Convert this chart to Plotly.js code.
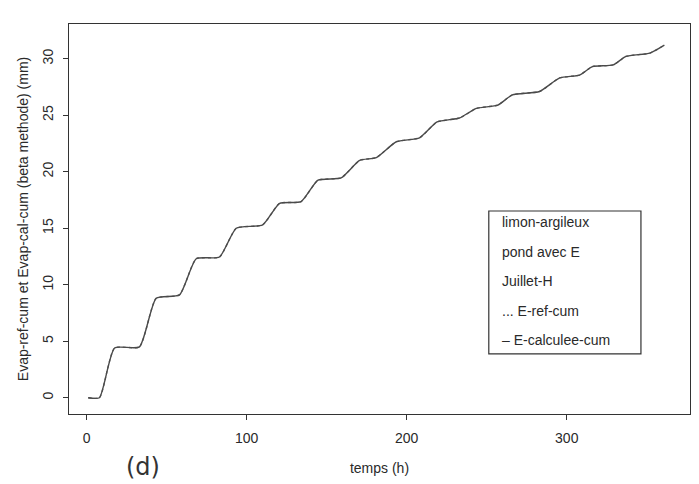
<!DOCTYPE html>
<html>
<head>
<meta charset="utf-8">
<script src="https://cdn.plot.ly/plotly-3.0.1.min.js"></script>
<style>html,body{margin:0;padding:0;background:#fff;}#chart{width:699px;height:484px;}</style>
</head>
<body>
<div id="chart"></div>
<script>
// Data (time in hours, cumulative evaporation in mm)
var timeHours = [1, 8, 17.5, 33, 43.5, 58, 68.5, 83, 93.5, 110, 120.6, 134, 144.6, 159, 170.6, 181, 193.5, 208, 219, 233, 243.5, 257, 266, 283, 295.6, 308, 316, 329, 337, 352, 361];
var eRefCum = [0.0, 0.0, 4.4, 4.5, 8.8, 9.1, 12.3, 12.45, 15.0, 15.3, 17.2, 17.35, 19.25, 19.45, 21.0, 21.25, 22.65, 23.0, 24.4, 24.75, 25.6, 25.9, 26.8, 27.1, 28.3, 28.55, 29.3, 29.45, 30.2, 30.5, 31.2];
var eCalculeeCum = [0.0, 0.0, 4.4, 4.5, 8.8, 9.1, 12.3, 12.45, 15.0, 15.3, 17.2, 17.35, 19.25, 19.45, 21.0, 21.25, 22.65, 23.0, 24.4, 24.75, 25.6, 25.9, 26.8, 27.1, 28.3, 28.55, 29.3, 29.45, 30.2, 30.5, 31.2];
var xTicks = [0, 100, 200, 300];
var yTicks = [0, 5, 10, 15, 20, 25, 30];
var legendLines = ["limon-argileux", "pond avec E", "Juillet-H", "... E-ref-cum", "\u2013 E-calculee-cum"];

var FONT = "Liberation Sans, Arial, Helvetica, sans-serif";
var INK = "#2a2a2a";

var traces = [
  {x: timeHours, y: eRefCum, mode: "lines", name: "E-ref-cum",
   line: {color: "#6a6a6a", width: 1.4, dash: "dot", shape: "spline", smoothing: 0.55}},
  {x: timeHours, y: eCalculeeCum, mode: "lines", name: "E-calculee-cum",
   line: {color: "#4a4a4a", width: 1.4, shape: "spline", smoothing: 0.55}}
];

var legY = [0.492, 0.415, 0.341, 0.264, 0.190];
var annotations = legendLines.map(function (t, i) {
  return {xref: "paper", yref: "paper", x: 0.694, y: legY[i], xanchor: "left", yanchor: "middle",
          text: t, showarrow: false, font: {family: FONT, size: 14, color: INK}};
});
annotations.push({xref: "paper", yref: "paper", x: 0.119, y: -0.135, xanchor: "center", yanchor: "middle",
  text: "(d)", showarrow: false, font: {family: "DejaVu Sans, sans-serif", size: 24, color: "#333"}});

var layout = {
  width: 699, height: 484,
  margin: {l: 69, r: 9, t: 24, b: 70},
  paper_bgcolor: "#fff", plot_bgcolor: "#fff",
  showlegend: false,
  font: {family: FONT, size: 14, color: INK},
  xaxis: {
    range: [-11, 377], tickvals: xTicks, ticktext: xTicks.map(String),
    showgrid: false, zeroline: false, showline: true, mirror: true, linecolor: "#333", linewidth: 1.2,
    ticks: "outside", ticklen: 5, tickcolor: "#333", ticklabelstandoff: 6,
    tickfont: {family: FONT, size: 14, color: INK},
    title: {text: "temps (h)", font: {family: FONT, size: 14, color: INK}, standoff: 18},
    automargin: false
  },
  yaxis: {
    range: [-1.44, 33.07], tickvals: yTicks, ticktext: yTicks.map(String), tickangle: -90,
    showgrid: false, zeroline: false, showline: true, mirror: true, linecolor: "#333", linewidth: 1.2,
    ticks: "outside", ticklen: 5, tickcolor: "#333", ticklabelstandoff: 4,
    tickfont: {family: FONT, size: 14, color: INK},
    title: {text: "Evap-ref-cum et Evap-cal-cum (beta methode) (mm)", font: {family: FONT, size: 14, color: INK}, standoff: 8},
    automargin: false
  },
  shapes: [{type: "rect", xref: "paper", yref: "paper", x0: 0.676, x1: 0.921, y0: 0.154, y1: 0.5205,
            line: {color: "#333", width: 1.2}, fillcolor: "rgba(0,0,0,0)"}],
  annotations: annotations
};

Plotly.newPlot("chart", traces, layout, {displayModeBar: false, staticPlot: true});
</script>
</body>
</html>
